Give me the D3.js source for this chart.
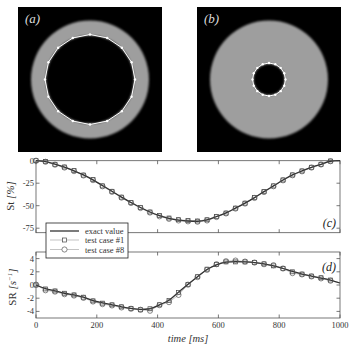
<!DOCTYPE html>
<html><head><meta charset="utf-8">
<script src="https://cdn.jsdelivr.net/npm/d3@7"></script>
<style>body{margin:0;background:#fff}svg{display:block}svg text{font-family:"Liberation Serif","Times New Roman",serif}</style>
</head><body>
<script>
// ---------- data ----------
const frameTimes = d3.range(32).map(i => i * 31.25);
const exactTimes = frameTimes.concat([1000]);
const stExact = [0,-1,-3.8,-7.2,-11.2,-15.8,-21.3,-27.6,-34,-40.5,-46.4,-52,-57,-61,-64,-66,-67,-67.3,-65.8,-62,-58,-52.7,-47.2,-41,-34.4,-28,-21.5,-15.8,-11.3,-7.3,-4,-0.6,0];
const stCase1 = [0,-1,-4,-7,-11,-16,-21,-28,-34,-40.5,-46.4,-52,-57,-61,-63.7,-65.5,-66.5,-67,-65.6,-62,-58.2,-52.7,-47.2,-41,-34.3,-28,-21.4,-15.8,-11.4,-7.3,-4,-0.4];
const stCase8 = [0,-1.2,-4.4,-7.6,-11.6,-16.4,-21.6,-28.4,-34.6,-41,-47,-52.6,-57.6,-61.8,-64.6,-66.4,-67.4,-67.8,-66.4,-62.6,-58.6,-53.2,-47.6,-41.4,-34.8,-28.4,-21.8,-16.2,-11.8,-7.6,-4.2,-0.6];
const srExact = [0,-0.55,-0.9,-1.25,-1.5,-1.85,-2.35,-2.7,-3.0,-3.3,-3.55,-3.7,-3.6,-3.0,-2.3,-1.1,0.1,1.25,2.35,3.05,3.45,3.55,3.5,3.4,3.2,2.9,2.5,2.05,1.65,1.35,1.05,0.75,0.3];
const srCase1 = [0,-0.6,-0.9,-1.25,-1.5,-1.85,-2.4,-2.75,-3.0,-3.3,-3.55,-3.75,-3.6,-3.0,-2.35,-1.15,0.1,1.25,2.4,3.1,3.5,3.5,3.5,3.4,3.2,2.9,2.5,2.0,1.65,1.35,1.1,0.75];
const srCase8 = [0.05,-0.8,-1.0,-1.4,-1.6,-1.95,-2.5,-2.9,-3.1,-3.4,-3.6,-3.75,-3.9,-3.05,-2.6,-1.5,0.05,1.2,2.3,3.15,3.6,3.7,3.55,3.4,3.15,3.0,2.5,1.8,1.6,1.3,1.0,0.65];
const xTicks = [0,200,400,600,800,1000];
const stTicks = [0,-25,-50,-75];
const srTicks = [4,2,0,-2,-4];
const legendLabels = ["exact value","test case #1","test case #8"];
const panelLabels = ["(a)","(b)","(c)","(d)"];
const contourAngles = d3.range(16).map(i => i * 22.5);

// ---------- drawing ----------
const W = 360, H = 360;
const svg = d3.select("body").append("svg").attr("width", W).attr("height", H);
const defs = svg.append("defs");
defs.append("filter").attr("id","blur").attr("x","-20%").attr("y","-20%").attr("width","140%").attr("height","140%")
  .append("feGaussianBlur").attr("stdDeviation", 1.3);

function imagePanel(x0, y0, w, h, cx, cy, rOut, rIn, rContour, label) {
  const g = svg.append("g");
  g.append("rect").attr("x", x0).attr("y", y0).attr("width", w).attr("height", h).attr("fill", "#000");
  g.append("circle").attr("cx", cx).attr("cy", cy).attr("r", rOut).attr("fill", "#9e9e9e").attr("filter","url(#blur)");
  g.append("circle").attr("cx", cx).attr("cy", cy).attr("r", rIn).attr("fill", "#000").attr("filter","url(#blur)");
  const pts = contourAngles.map(a => [cx + rContour * Math.cos(a * Math.PI / 180), cy + rContour * Math.sin(a * Math.PI / 180)]);
  g.append("path").attr("d", d3.line().curve(d3.curveLinearClosed)(pts)).attr("fill", "none").attr("stroke", "#fff").attr("stroke-width", 1);
  g.selectAll(null).data(pts).join("circle").attr("cx", d => d[0]).attr("cy", d => d[1]).attr("r", 1.2).attr("fill", "#fff");
  g.append("text").attr("x", x0 + 7).attr("y", y0 + 16).attr("fill", "#ddd")
    .style("font-style", "italic").style("font-size", "13px").text(label);
}
imagePanel(18, 7, 144, 145, 90, 79.5, 59, 44, 45, panelLabels[0]);
imagePanel(197, 7, 144, 145, 269, 79.5, 59, 15.5, 16.5, panelLabels[1]);

const x = d3.scaleLinear().domain([0, 1000]).range([36, 340]);
const ySt = d3.scaleLinear().domain([-80, 0]).range([232.7, 160.7]);
const ySr = d3.scaleLinear().domain([-5, 5]).range([318, 252]);

function plotPanel(y, ticks, exact, c1, c8, label, labelY, showX) {
  const g = svg.append("g");
  const [yb, yt] = y.range();
  g.append("rect").attr("x", x.range()[0]).attr("y", yt).attr("width", x.range()[1] - x.range()[0]).attr("height", yb - yt)
    .attr("fill", "#fff").attr("stroke", "#555").attr("stroke-width", 0.8);
  const tk = 3.5;
  xTicks.forEach(t => {
    g.append("line").attr("x1", x(t)).attr("x2", x(t)).attr("y1", yb).attr("y2", yb - tk).attr("stroke", "#555").attr("stroke-width", 0.8);
    g.append("line").attr("x1", x(t)).attr("x2", x(t)).attr("y1", yt).attr("y2", yt + tk).attr("stroke", "#555").attr("stroke-width", 0.8);
  });
  ticks.forEach(v => {
    g.append("line").attr("x1", x.range()[0]).attr("x2", x.range()[0] + tk).attr("y1", y(v)).attr("y2", y(v)).attr("stroke", "#555").attr("stroke-width", 0.8);
    g.append("line").attr("x1", x.range()[1]).attr("x2", x.range()[1] - tk).attr("y1", y(v)).attr("y2", y(v)).attr("stroke", "#555").attr("stroke-width", 0.8);
    g.append("text").attr("x", x.range()[0] - 2).attr("y", y(v) + 3).attr("text-anchor", "end")
      .style("font-size", "8.5px").attr("fill", "#333").text(v);
  });
  if (showX) {
    xTicks.forEach(t => g.append("text").attr("x", x(t)).attr("y", yb + 10).attr("text-anchor", "middle")
      .style("font-size", "8.5px").attr("fill", "#333").text(t));
  }
  const line = d3.line().x((d, i) => x(frameTimes[i])).y(d => y(d));
  g.append("path").attr("d", line(c1)).attr("fill", "none").attr("stroke", "#aaa").attr("stroke-width", 0.7);
  g.append("path").attr("d", line(c8)).attr("fill", "none").attr("stroke", "#aaa").attr("stroke-width", 0.7);
  g.append("path").attr("d", d3.line().curve(d3.curveMonotoneX).x((d, i) => x(exactTimes[i])).y(d => y(d))(exact))
    .attr("fill", "none").attr("stroke", "#333").attr("stroke-width", 1.3);
  g.selectAll(null).data(c1).join("rect").attr("x", (d, i) => x(frameTimes[i]) - 2).attr("y", d => y(d) - 2)
    .attr("width", 4).attr("height", 4).attr("fill", "none").attr("stroke", "#444").attr("stroke-width", 0.7);
  g.selectAll(null).data(c8).join("circle").attr("cx", (d, i) => x(frameTimes[i])).attr("cy", d => y(d))
    .attr("r", 2.6).attr("fill", "none").attr("stroke", "#555").attr("stroke-width", 0.7);
  g.append("text").attr("x", 336).attr("y", labelY).attr("text-anchor", "end")
    .style("font-style", "italic").style("font-size", "12px").attr("fill", "#222").text(label);
}
plotPanel(ySt, stTicks, stExact, stCase1, stCase8, panelLabels[2], 227, false);
plotPanel(ySr, srTicks, srExact, srCase1, srCase8, panelLabels[3], 271, true);

// axis titles
svg.append("text").attr("transform", "translate(14,196) rotate(-90)").attr("text-anchor", "middle")
  .style("font-size", "11px").attr("fill", "#333")
  .call(t => {
    t.append("tspan").text("St ");
    t.append("tspan").style("font-style", "italic").text("[%]");
  });
svg.append("text").attr("transform", "translate(16,287) rotate(-90)").attr("text-anchor", "middle")
  .style("font-size", "11px").attr("fill", "#333")
  .call(t => {
    t.append("tspan").text("SR ");
    t.append("tspan").style("font-style", "italic").text("[s");
    t.append("tspan").attr("dy", -4).style("font-size", "7px").style("font-style", "italic").text("−1");
    t.append("tspan").attr("dy", 4).style("font-style", "italic").text("]");
  });
svg.append("text").attr("x", 188).attr("y", 342).attr("text-anchor", "middle")
  .style("font-style", "italic").style("font-size", "10.5px").attr("fill", "#333").text("time [ms]");

// legend
const lg = svg.append("g");
lg.append("rect").attr("x", 46).attr("y", 223).attr("width", 82).attr("height", 35).attr("fill", "#fff").attr("stroke", "#222").attr("stroke-width", 0.8);
const ly = [231, 240, 249.5];
lg.append("line").attr("x1", 50).attr("x2", 79).attr("y1", ly[0]).attr("y2", ly[0]).attr("stroke", "#333").attr("stroke-width", 1.3);
[1, 2].forEach(k => lg.append("line").attr("x1", 50).attr("x2", 79).attr("y1", ly[k]).attr("y2", ly[k]).attr("stroke", "#aaa").attr("stroke-width", 0.7));
lg.append("rect").attr("x", 62.5).attr("y", ly[1] - 2).attr("width", 4).attr("height", 4).attr("fill", "#fff").attr("stroke", "#444").attr("stroke-width", 0.7);
lg.append("circle").attr("cx", 64.5).attr("cy", ly[2]).attr("r", 2.6).attr("fill", "#fff").attr("stroke", "#555").attr("stroke-width", 0.7);
legendLabels.forEach((s, i) => lg.append("text").attr("x", 85).attr("y", ly[i] + 3)
  .style("font-size", "8.5px").attr("fill", "#333").text(s));
</script>
</body></html>
